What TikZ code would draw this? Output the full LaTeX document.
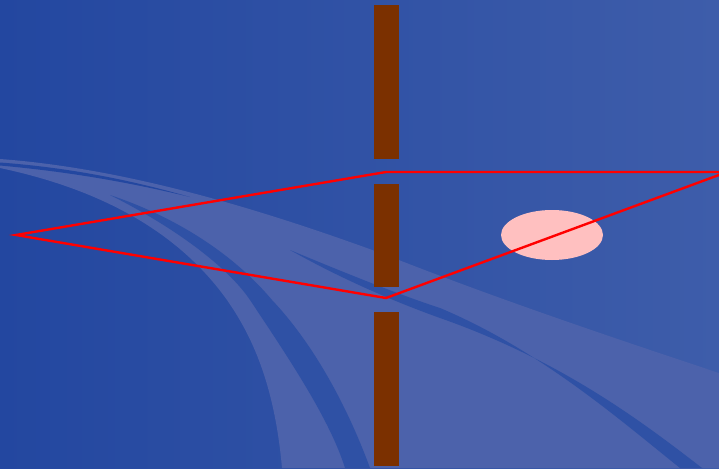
\documentclass[tikz,border=0pt]{standalone}
\usepackage{tikz}

\definecolor{bgleft}{RGB}{35,71,160}
\definecolor{bgright}{RGB}{62,93,170}
\definecolor{swoosh}{RGB}{76,98,171}
\definecolor{swooshdark}{RGB}{47,81,165}
\definecolor{barbrown}{RGB}{123,48,0}
\definecolor{spot}{RGB}{255,192,192}

\begin{document}
\begin{tikzpicture}[
        x=1pt, y=-1pt,
        bar/.style={fill=barbrown, draw=none},
        light/.style={fill=swoosh, draw=none},
        stripe/.style={fill=swooshdark, draw=none},
        outline/.style={draw=red, line width=2.4pt, line join=miter}
    ]
    \useasboundingbox (0,0) rectangle (719,468);
    \clip (0,0) rectangle (719,468);
    \shade[left color=bgleft, right color=bgright] (0,0) rectangle (719,468);

    % swooshes
    \fill[light] (0,159) .. controls (120,168) and (250,205) .. (386,255)
        .. controls (500,300) and (620,340) .. (719,373) -- (719,468) -- (282,468)
        .. controls (275,390) and (255,340) .. (227,300)
        .. controls (170,220) and (80,185) .. (0,168) -- cycle;
    \fill[bgleft] (0,162.5) .. controls (60,167) and (120,177) .. (190,197)
        .. controls (120,180) and (60,171) .. (0,165.5) -- cycle;
    \fill[stripe] (110,195) .. controls (180,230) and (230,270) .. (250,300)
        .. controls (290,360) and (330,420) .. (345,468) -- (370,468)
        .. controls (345,400) and (310,340) .. (272,300)
        .. controls (230,250) and (170,215) .. (110,195) -- cycle;
    \fill[stripe] (290,250) .. controls (350,275) and (400,295) .. (440,308)
        .. controls (540,350) and (620,420) .. (680,468) -- (702,468)
        .. controls (640,420) and (560,360) .. (440,318)
        .. controls (390,300) and (340,278) .. (290,250) -- cycle;

    % post
    \fill[bar] (374,5) rectangle (399,159);
    \fill[bar] (374,184) rectangle (399,287);
    \fill[bar] (374,312) rectangle (399,466);

    \fill[spot] (552,235) ellipse [x radius=51, y radius=25];

    \coordinate (west) at (16,235);
    \coordinate (north) at (386,172);
    \coordinate (east) at (727,172);
    \coordinate (south) at (386,298);
    \draw[outline] (west) -- (north) -- (east) -- (south) -- cycle;
\end{tikzpicture}
\end{document}
